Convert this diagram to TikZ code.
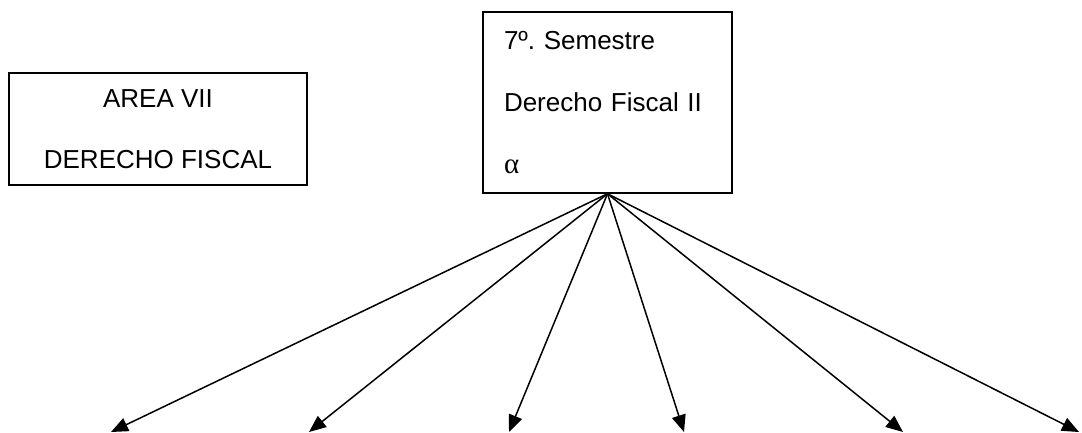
\documentclass[tikz,border=0pt]{standalone}
\usepackage{fontspec}
\setmainfont{Liberation Sans}
\newfontfamily\greekfont{Liberation Serif}
\usetikzlibrary{arrows.meta}
\tikzset{
  areabox/.style={draw, line width=1.5pt, minimum width=298pt, minimum height=112pt,
    align=center, font=\fontsize{26}{61}\selectfont},
  semestrebox/.style={draw, line width=1.5pt, minimum width=249pt, minimum height=181pt,
    text width=207pt, inner xsep=21pt, align=left, font=\fontsize{26}{62}\selectfont}
}
\begin{document}
\begin{tikzpicture}[x=1pt, y=-1pt]
    \useasboundingbox (0,0) rectangle (1082,432);
    \node[areabox] (area) at (158,129) {AREA VII\\DERECHO FISCAL};
    \node[semestrebox] (sem) at (607.5,102.5) {7º.\ Semestre\\Derecho Fiscal II\\{\greekfont\fontsize{29}{62}\selectfont α}};
    \coordinate (t1) at (111,432);
    \coordinate (t2) at (309,432);
    \coordinate (t3) at (509,432);
    \coordinate (t4) at (684,432);
    \coordinate (t5) at (903,432);
    \coordinate (t6) at (1079,432);
    \foreach \t in {t1,t2,t3,t4,t5,t6}
      \draw[->, >={Triangle[length=17pt,width=14pt]}, line width=1.5pt] (sem.south) -- (\t);
  \end{tikzpicture}
\end{document}
